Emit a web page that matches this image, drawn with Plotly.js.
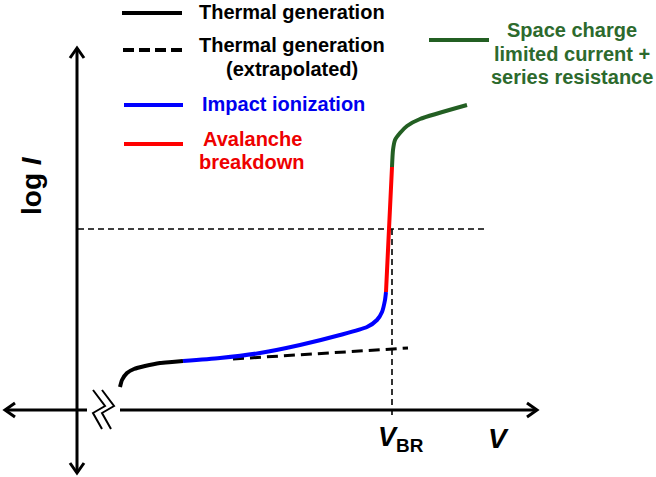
<!DOCTYPE html>
<html>
<head>
<meta charset="utf-8">
<script src="https://cdn.plot.ly/plotly-3.0.1.min.js"></script>
<style>
  html, body { margin: 0; padding: 0; background: #fff; }
  #chart { width: 656px; height: 477px; }
</style>
</head>
<body>
<div id="chart"></div>
<script>
// Schematic reverse-bias I–V characteristic of a diode (log I versus V),
// in arbitrary drawing units: V runs left to right, logI runs bottom to top.

// Thermal generation (solid black)
const thermalV    = [120, 122, 127, 134, 145, 160, 172, 183];
const thermalLogI = [90, 97, 104, 108, 111, 114, 115, 116];

// Thermal generation extrapolated (dashed black)
const extrapV    = [233, 408];
const extrapLogI = [118, 129];

// Impact ionization (blue)
const impactV    = [183, 220, 260, 300, 340, 367, 377, 382, 385, 386];
const impactLogI = [116, 119, 124, 132, 142, 150, 157, 165, 177, 185];

// Avalanche breakdown (red)
const avalancheV    = [386, 389, 392];
const avalancheLogI = [185, 248, 310];

// Space charge limited current + series resistance (green)
const sclcV    = [392, 393, 395, 400, 407, 420, 467];
const sclcLogI = [310, 327, 337, 344, 351, 358, 372];

// Breakdown point
const V_BR = 389;
const LOGI_BR = 248;

// Series labels (one entry per printed line) and colours
const seriesLines  = [
  ['Thermal generation'],
  ['Thermal generation', '(extrapolated)'],
  ['Impact ionization'],
  ['Avalanche', 'breakdown'],
  ['Space charge', 'limited current +', 'series resistance']
];
const seriesColors = ['#000000', '#000000', '#0000ff', '#ff0000', '#235f23'];
const textColors   = ['#000000', '#000000', '#0000ee', '#ee0000', '#2d6a2d'];

const W = 656, H = 477;
const FONT = 'Liberation Sans, Arial, sans-serif';

// axis geometry
const axX = 77, axY = 67;               // where the axes cross
const axTop = 429, axBottom = 4;        // vertical arrow tips
const axLeft = 5, axRight = 537;        // horizontal arrow tips
const breakFrom = 87, breakTo = 120;    // gap in the V axis
const headBack = 10, headSide = 7;

const traces = [];
function line(x, y, color, width, dash) {
  traces.push({
    type: 'scatter', mode: 'lines', x: x, y: y, hoverinfo: 'skip',
    showlegend: false,
    line: { color: color, width: width, dash: dash || 'solid', shape: 'spline', smoothing: 0.6 }
  });
}
function straight(x, y, color, width, dash) {
  traces.push({
    type: 'scatter', mode: 'lines', x: x, y: y, hoverinfo: 'skip',
    showlegend: false,
    line: { color: color, width: width, dash: dash || 'solid' }
  });
}

// axes with open arrowheads
straight([axX, axX], [axBottom, axTop], '#000', 3);
straight([axX - headSide, axX, axX + headSide], [axTop - headBack, axTop, axTop - headBack], '#000', 3);
straight([axX - headSide, axX, axX + headSide], [axBottom + headBack, axBottom, axBottom + headBack], '#000', 3);
straight([axLeft, breakFrom], [axY, axY], '#000', 3);
straight([breakTo, axRight], [axY, axY], '#000', 3);
straight([axLeft + headBack, axLeft, axLeft + headBack], [axY + headSide, axY, axY - headSide], '#000', 3);
straight([axRight - headBack, axRight, axRight - headBack], [axY + headSide, axY, axY - headSide], '#000', 3);
// axis break marks
straight([93, 105, 93, 102], [axY + 20, axY + 4, axY - 3, axY - 19], '#000', 2);
straight([102, 114, 102, 111], [axY + 20, axY + 4, axY - 3, axY - 19], '#000', 2);

// guide lines through the breakdown point
straight([78, 488], [LOGI_BR, LOGI_BR], '#000', 1.6, '6px,4px');
straight([V_BR + 3, V_BR + 3], [LOGI_BR, 60], '#000', 1.6, '6px,4px');

// curve segments
straight(extrapV, extrapLogI, seriesColors[1], 3, '11px,6px');
line(thermalV, thermalLogI, seriesColors[0], 4);
line(impactV, impactLogI, seriesColors[2], 4);
line(avalancheV, avalancheLogI, seriesColors[3], 4);
line(sclcV, sclcLogI, seriesColors[4], 4);

// key samples
straight([122, 182], [464, 464], seriesColors[0], 4);
straight([123, 183], [427, 427], seriesColors[1], 4, '11px,5px');
straight([124, 183], [372, 372], seriesColors[2], 4);
straight([124, 183], [333, 333], seriesColors[3], 4);
straight([429, 489], [437, 437], seriesColors[4], 4);

const ann = [];
function label(text, x, y, color, opts) {
  ann.push(Object.assign({
    text: '<b>' + text + '</b>', x: x, y: y, xref: 'x', yref: 'y',
    showarrow: false, font: { family: FONT, size: 20, color: color },
    xanchor: 'center', yanchor: 'middle', align: 'center'
  }, opts || {}));
}
// key texts, one annotation per line; [x, first-line y, line step]
const keyPlaces = [[292, 465, 0], [292, 432, 24], [200, 373, 0], [252, 338, 23], [572, 447, 23.5]];
seriesLines.forEach(function (lines, i) {
  const p = keyPlaces[i];
  lines.forEach(function (t, j) {
    label(t, p[0], p[1] - j * p[2], textColors[i], i === 2 ? { xanchor: 'left' } : {});
  });
});

// axis titles
label('log <i>I</i>', 31, 291, '#000', { textangle: -90, font: { family: FONT, size: 28, color: '#000' } });
label('<i>V</i><sub>BR</sub>', 401, 38, '#000', { font: { family: FONT, size: 27, color: '#000' } });
label('<i>V</i>', 498, 39, '#000', { font: { family: FONT, size: 28, color: '#000' } });

Plotly.newPlot('chart', traces, {
  width: W, height: H,
  margin: { l: 0, r: 0, t: 0, b: 0 },
  paper_bgcolor: '#ffffff', plot_bgcolor: '#ffffff',
  xaxis: { range: [0, W], visible: false, fixedrange: true },
  yaxis: { range: [0, H], visible: false, fixedrange: true },
  annotations: ann,
  showlegend: false
}, { displayModeBar: false, staticPlot: true });
</script>
</body>
</html>
